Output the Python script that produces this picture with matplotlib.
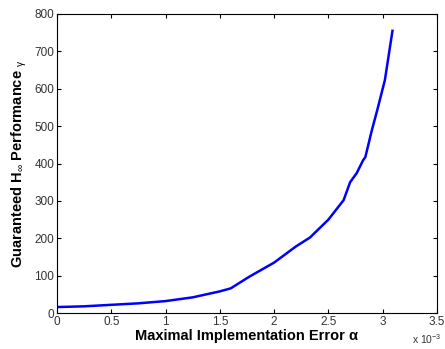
import matplotlib
matplotlib.use("Agg")
import matplotlib.pyplot as plt

# values (x in units of 1e-3)
alpha = [0.0, 0.25, 0.5, 0.75, 1.0, 1.25, 1.5, 1.6, 1.77, 2.0, 2.2, 2.33,
         2.5, 2.64, 2.70, 2.76, 2.82, 2.84, 2.90, 2.95, 3.02, 3.09]
gamma = [16, 18, 22, 26, 32, 42, 58, 66, 97, 135, 178, 202,
         250, 302, 350, 374, 409, 417, 489, 543, 623, 755]

xticks = [0, 0.5, 1, 1.5, 2, 2.5, 3, 3.5]
xticklabels = ["0", "0.5", "1", "1.5", "2", "2.5", "3", "3.5"]
yticks = [0, 100, 200, 300, 400, 500, 600, 700, 800]

plt.rcParams["font.family"] = ["Liberation Sans", "DejaVu Sans"]
plt.rcParams["mathtext.fontset"] = "custom"
plt.rcParams["mathtext.rm"] = "Liberation Sans"
plt.rcParams["mathtext.it"] = "Liberation Sans:italic"
plt.rcParams["mathtext.bf"] = "Liberation Sans:bold"

fig = plt.figure(figsize=(4.45, 3.49), dpi=100)
ax = fig.add_axes([0.128, 0.103, 0.854, 0.857])

ax.plot(alpha, gamma, color="#0000ff", lw=1.8)

ax.set_xlim(0, 3.5)
ax.set_ylim(0, 800)
ax.set_xticks(xticks)
ax.set_xticklabels(xticklabels)
ax.set_yticks(yticks)
ax.tick_params(direction="in", top=True, right=True, length=3, width=0.8,
               labelsize=8.5, colors="black", labelcolor="#333333", pad=2)
for s in ax.spines.values():
    s.set_linewidth(0.8)

ax.set_xlabel("Maximal Implementation Error α", fontsize=10.5,
              fontweight="bold", labelpad=1)
ax.set_ylabel(r"Guaranteed H$_{\mathrm{\infty}}$ Performance $_{\mathrm{γ}}$",
              fontsize=10.5, fontweight="bold", labelpad=4)
fig.text(0.925, 0.015, r"x 10$^{-3}$", fontsize=7.5, color="#333333")

fig.savefig("out.png", dpi=100, facecolor="white")
